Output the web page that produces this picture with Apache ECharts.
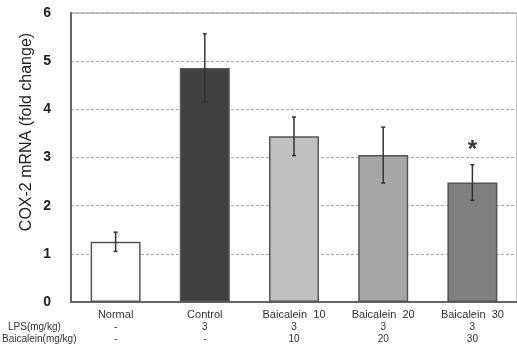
<!DOCTYPE html>
<html><head><meta charset="utf-8">
<script src="https://cdn.jsdelivr.net/npm/echarts@6/dist/echarts.min.js"></script>
<style>html,body{margin:0;padding:0;background:#fff}#c{width:517px;height:345px}</style>
</head><body><div id="c"></div>
<script>
const categories = ['Normal', 'Control', 'Baicalein  10', 'Baicalein  20', 'Baicalein  30'];
const lpsDose = ['-', '3', '3', '3', '3'];
const baicaleinDose = ['-', '-', '10', '20', '30'];
const means = [1.25, 4.86, 3.44, 3.05, 2.48];
const errors = [0.2, 0.71, 0.4, 0.58, 0.37];
const significance = ['', '', '', '', '*'];
const barColors = ['#ffffff', '#404040', '#c0c0c0', '#a6a6a6', '#808080'];
const yTicks = [0, 1, 2, 3, 4, 5, 6];

const chart = echarts.init(document.getElementById('c'));
const font = 'Arial, "Liberation Sans", sans-serif';
chart.setOption({
  animation: false,
  grid: { left: 71, top: 13, width: 448, bottom: 43, show: true, borderColor: '#8a8a8a', borderWidth: 1, backgroundColor: 'transparent' },
  xAxis: {
    type: 'category',
    data: categories,
    axisLine: { lineStyle: { color: '#666', width: 2 } },
    axisTick: { show: false },
    axisLabel: {
      interval: 0, margin: 7,
      formatter: (v, i) => '{a|' + v + '}\n{b|' + lpsDose[i] + '}\n{b|' + baicaleinDose[i] + '}',
      rich: {
        a: { fontFamily: font, fontSize: 11, color: '#333', lineHeight: 12 },
        b: { fontFamily: font, fontSize: 10, color: '#333', lineHeight: 12 }
      }
    }
  },
  yAxis: {
    type: 'value', min: yTicks[0], max: yTicks[yTicks.length - 1], interval: 1,
    axisLine: { show: true, lineStyle: { color: '#666', width: 2 } },
    axisTick: { show: false },
    axisLabel: { fontFamily: font, fontSize: 14, fontWeight: 'bold', color: '#222', margin: 20 },
    splitLine: { lineStyle: { color: '#aaa', type: [3, 2], width: 1 } }
  },
  graphic: [
    { type: 'text', x: 27, y: 132, rotation: Math.PI / 2,
      style: { text: 'COX-2 mRNA (fold change)', fontFamily: font, fontSize: 16, fill: '#222', align: 'center', verticalAlign: 'middle' } },
    { type: 'text', left: 8, top: 322, style: { text: 'LPS(mg/kg)', fontFamily: font, fontSize: 10, fill: '#333' } },
    { type: 'text', left: 2, top: 334, style: { text: 'Baicalein(mg/kg)', fontFamily: font, fontSize: 10, fill: '#333' } }
  ],
  series: [
    {
      type: 'bar', barWidth: 50,
      data: means.map((v, i) => ({ value: v, itemStyle: { color: barColors[i] } })),
      itemStyle: { borderColor: '#555', borderWidth: 1.5 }
    },
    {
      type: 'custom',
      data: means.map((v, i) => [i, v, errors[i]]),
      renderItem: (params, api) => {
        const i = api.value(0), m = api.value(1), e = api.value(2);
        const top = api.coord([i, m + e]);
        const bot = api.coord([i, m - e]);
        const children = [
          { type: 'line', shape: { x1: top[0], y1: top[1], x2: bot[0], y2: bot[1] }, style: { stroke: '#333', lineWidth: 1.5 } },
          { type: 'line', shape: { x1: top[0] - 2, y1: top[1], x2: top[0] + 2, y2: top[1] }, style: { stroke: '#333', lineWidth: 1.5 } },
          { type: 'line', shape: { x1: bot[0] - 2, y1: bot[1], x2: bot[0] + 2, y2: bot[1] }, style: { stroke: '#333', lineWidth: 1.5 } }
        ];
        const s = significance[params.dataIndex];
        if (s) children.push({ type: 'text', style: { text: s, x: top[0], y: top[1] - 2, align: 'center', verticalAlign: 'bottom', fontFamily: font, fontSize: 24, fontWeight: 'bold', fill: '#333' } });
        return { type: 'group', children };
      },
      z: 5
    }
  ]
});
</script></body></html>
